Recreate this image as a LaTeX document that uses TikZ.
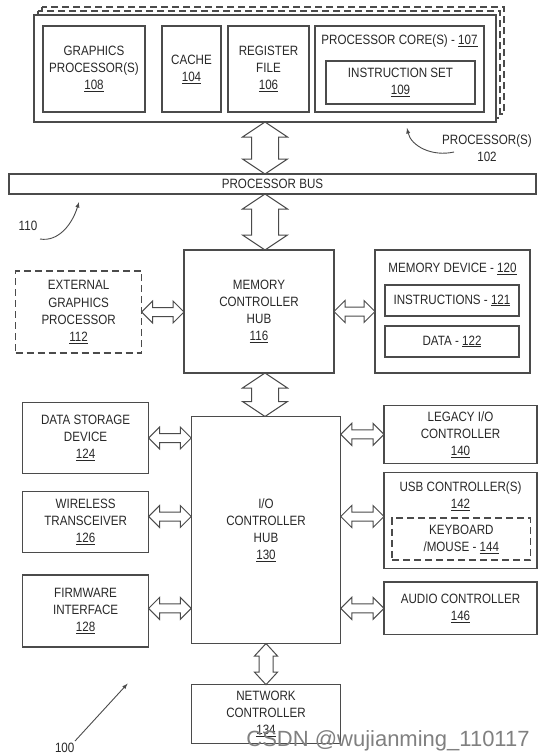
\documentclass[tikz,border=0pt]{standalone}
\usepackage{fontspec}
\setmainfont{Liberation Sans}[FakeStretch=0.86]
\newfontfamily\markfont{Liberation Sans}
\usetikzlibrary{arrows.meta}
\usetikzlibrary{calc}
\tikzset{>=latex}
\definecolor{figgray}{RGB}{75,75,75}
\definecolor{figtext}{RGB}{40,40,40}
\newcommand{\figfont}{\fontsize{13.5}{17.2}\selectfont}
\tikzstyle{blk}=[draw=figgray,line width=1.2pt,inner sep=0pt,outer sep=0pt,align=center,text=figtext,font=\figfont]
\tikzstyle{dashblk}=[blk,dash pattern=on 7pt off 4pt]
\tikzstyle{shadowbox}=[draw=figgray,line width=1.1pt,dash pattern=on 7pt off 4pt,fill=white]
\tikzstyle{lbl}=[inner sep=0pt,align=center,text=figtext,font=\figfont]
\tikzstyle{busline}=[draw=figgray,line width=1pt,line join=miter,fill=white]
\tikzstyle{refline}=[draw=figgray,line width=0.9pt]
% block double arrow: from, to, half shaft, half head, head length
\newcommand{\dblarrow}[5]{%
  \draw[busline] (#1)
    -- ($(#1)!#5!(#2)!#4!90:(#2)$)
    -- ($(#1)!#5!(#2)!#3!90:(#2)$)
    -- ($(#2)!#5!(#1)!#3!-90:(#1)$)
    -- ($(#2)!#5!(#1)!#4!-90:(#1)$)
    -- (#2)
    -- ($(#2)!#5!(#1)!#4!90:(#1)$)
    -- ($(#2)!#5!(#1)!#3!90:(#1)$)
    -- ($(#1)!#5!(#2)!#3!-90:(#2)$)
    -- ($(#1)!#5!(#2)!#4!-90:(#2)$)
    -- cycle;}

\begin{document}
\begin{tikzpicture}[x=1pt,y=-1pt]
    \useasboundingbox (0,0) rectangle (548,755);

    % processor(s), stacked copies behind
    \draw[shadowbox] (42,7) rectangle (504,114);
    \draw[shadowbox] (38,11) rectangle (500,118);
    \node[blk,fill=white,minimum width=462pt,minimum height=107pt] (proc) at (265,68.5) {};
    \node[blk,minimum width=102pt,minimum height=86pt] (gfx) at (94,69) {GRAPHICS\\PROCESSOR(S)\\\underline{108}};
    \node[blk,minimum width=59pt,minimum height=86pt] (cache) at (191.5,69) {CACHE\\\underline{104}};
    \node[blk,minimum width=81pt,minimum height=86pt] (reg) at (268.5,69) {REGISTER\\FILE\\\underline{106}};
    \node[blk,minimum width=169pt,minimum height=86pt] (core) at (399.5,69) {};
    \node[lbl] (corelbl) at (399.5,41) {PROCESSOR CORE(S) - \underline{107}};
    \node[blk,minimum width=149pt,minimum height=43pt] (iset) at (400.5,82.5) {INSTRUCTION SET\\\underline{109}};
    \node[lbl] (proclbl) at (487,148) {PROCESSOR(S)\\102};

    % processor bus
    \node[blk,minimum width=527pt,minimum height=20pt] (bus) at (272.5,184) {PROCESSOR BUS};
    \node[lbl] (buslbl) at (28,226) {110};

    % memory side
    \node[blk,minimum width=150pt,minimum height=123pt] (mch) at (259,311.5) {MEMORY\\CONTROLLER\\HUB\\\underline{116}};
    \node[dashblk,minimum width=126pt,minimum height=82pt] (ext) at (78.6,312) {EXTERNAL\\GRAPHICS\\PROCESSOR\\\underline{112}};
    \node[blk,minimum width=155pt,minimum height=123pt] (mem) at (452.5,311.5) {};
    \node[lbl] (memlbl) at (452.5,269) {MEMORY DEVICE - \underline{120}};
    \node[blk,minimum width=134pt,minimum height=31pt] (inst) at (452,300.5) {INSTRUCTIONS - \underline{121}};
    \node[blk,minimum width=134pt,minimum height=31pt] (data) at (452,341.5) {DATA - \underline{122}};

    % i/o side
    \node[blk,minimum width=149.5pt,minimum height=227pt] (ich) at (266,530) {I/O\\CONTROLLER\\HUB\\\underline{130}};
    \node[blk,minimum width=126pt,minimum height=71pt] (ds) at (85.6,438) {DATA STORAGE\\DEVICE\\\underline{124}};
    \node[blk,minimum width=126pt,minimum height=60.5pt] (wl) at (85.6,522) {WIRELESS\\TRANSCEIVER\\\underline{126}};
    \node[blk,minimum width=126pt,minimum height=72pt] (fw) at (85.6,611) {FIRMWARE\\INTERFACE\\\underline{128}};
    \node[blk,minimum width=153pt,minimum height=58pt] (leg) at (460.5,434.4) {LEGACY I/O\\CONTROLLER\\\underline{140}};
    \node[blk,minimum width=153pt,minimum height=96pt] (usb) at (460.5,520.6) {};
    \node[lbl] (usblbl) at (460.5,496) {USB CONTROLLER(S)\\\underline{142}};
    \node[dashblk,minimum width=138.6pt,minimum height=42pt] (kbd) at (461.3,539) {KEYBOARD\\/MOUSE - \underline{144}};
    \node[blk,minimum width=153pt,minimum height=52.7pt] (aud) at (460.5,608.4) {AUDIO CONTROLLER\\\underline{146}};
    \node[blk,minimum width=149.5pt,minimum height=58.7pt] (net) at (266,714) {NETWORK\\CONTROLLER\\\underline{134}};
    \node[lbl] (syslbl) at (64.7,748) {100};

    % bus arrows
    \coordinate (col) at (265,0);
    \coordinate (row) at (0,516.5);
    \dblarrow{col |- proc.south}{col |- bus.north}{13.5pt}{22.5pt}{15pt}
    \dblarrow{col |- bus.south}{col |- mch.north}{13.5pt}{22.5pt}{15pt}
    \dblarrow{col |- mch.south}{col |- ich.north}{13.5pt}{22.5pt}{15pt}
    \dblarrow{ext.east}{ext.east -| mch.west}{4.5pt}{11pt}{11pt}
    \dblarrow{mem.west -| mch.east}{mem.west}{4.5pt}{11pt}{11pt}
    \dblarrow{ds.east}{ds.east -| ich.west}{4.5pt}{11pt}{11pt}
    \dblarrow{wl.east |- row}{ich.west |- row}{4.5pt}{11pt}{11pt}
    \dblarrow{fw.east |- aud.west}{ich.west |- aud.west}{4.5pt}{11pt}{11pt}
    \dblarrow{ich.east |- leg.west}{leg.west}{4.5pt}{11pt}{11pt}
    \dblarrow{ich.east |- row}{usb.west |- row}{4.5pt}{11pt}{11pt}
    \dblarrow{ich.east |- aud.west}{aud.west}{4.5pt}{11pt}{11pt}
    \dblarrow{ich.south}{ich.south |- net.north}{7pt}{11.5pt}{12.5pt}

    % reference arrows
    \coordinate (proctip) at (407,128);
    \coordinate (bustip) at (79,202);
    \coordinate (systip) at (127.6,683.6);
    \draw[refline,->] (454,152) .. controls (432,157) and (411,146) .. (proctip);
    \draw[refline,->] (40,239) .. controls (58,242) and (72,225) .. (bustip);
    \draw[refline,->] (75,741) -- (systip);

    \node[text=black!50,font=\markfont\fontsize{22}{22}\selectfont] (mark) at (388,741) {CSDN @wujianming\_110117};
\end{tikzpicture}
\end{document}
